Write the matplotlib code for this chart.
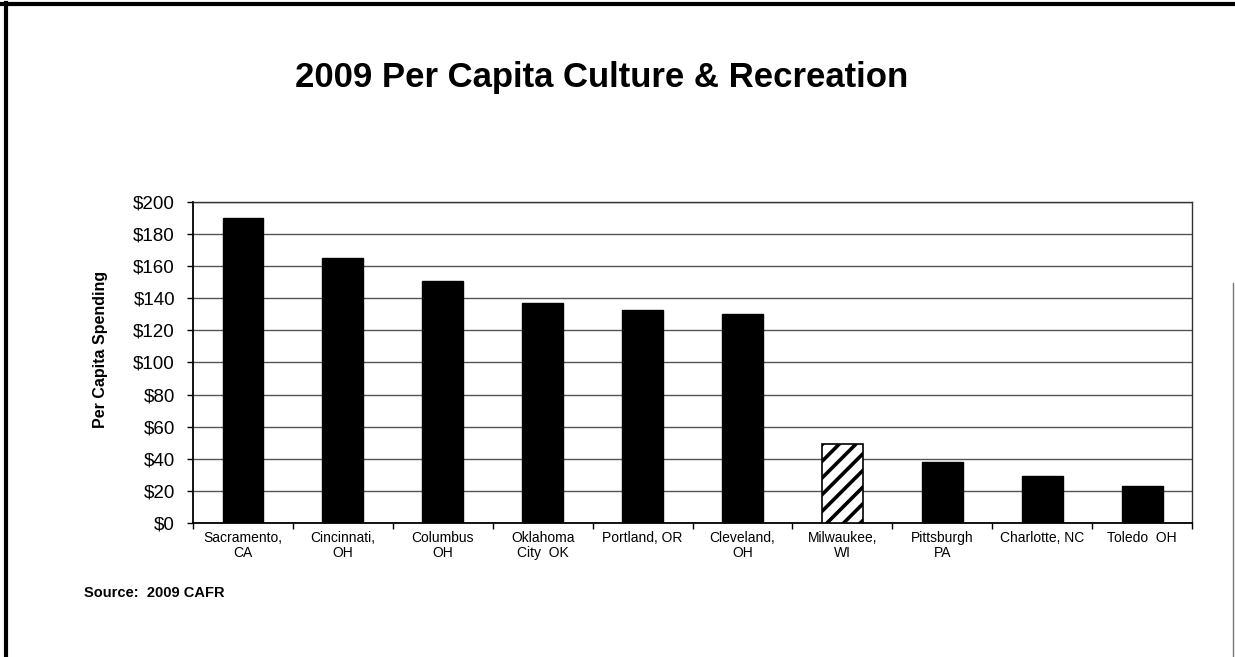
import matplotlib
matplotlib.use("Agg")
import matplotlib.pyplot as plt
from matplotlib.lines import Line2D
import numpy as np

plt.rcParams['font.family'] = ['Liberation Sans', 'DejaVu Sans']
plt.rcParams['hatch.linewidth'] = 2.6
plt.rcParams['hatch.color'] = 'black'

# ── data ─────────────────────────────────────────────────────────────────────
cities = ["Sacramento,\nCA", "Cincinnati,\nOH", "Columbus\nOH", "Oklahoma\nCity  OK",
          "Portland, OR", "Cleveland,\nOH", "Milwaukee,\nWI", "Pittsburgh\nPA",
          "Charlotte, NC", "Toledo  OH"]
spending = [190, 165, 151, 137, 133, 130, 49, 38, 29, 23]
highlight = "Milwaukee,\nWI"

yticks = np.arange(0, 201, 20)
ytick_labels = [f"${v}" for v in yticks]

# ── figure ───────────────────────────────────────────────────────────────────
fig = plt.figure(figsize=(12.35, 6.57), dpi=100)
fig.patch.set_facecolor("white")
ax = fig.add_axes([0.1563, 0.2040, 0.8089, 0.4885])

x = np.arange(len(cities))
for xi, name, val in zip(x, cities, spending):
    if name == highlight:
        ax.bar(xi, val, width=0.41, facecolor="white", edgecolor="black",
               linewidth=1.2, hatch="//", zorder=3)
    else:
        ax.bar(xi, val, width=0.41, color="black", edgecolor="black", zorder=3)

ax.set_xlim(-0.5, len(cities) - 0.5)
ax.set_ylim(0, 200)
ax.set_yticks(yticks)
ax.set_yticklabels(ytick_labels, fontsize=13.5)
ax.set_xticks(x)
ax.set_xticklabels(cities, fontsize=10, linespacing=1.1)
ax.tick_params(axis="x", which="major", length=0, pad=6)
ax.set_xticks(np.arange(-0.5, len(cities), 1), minor=True)
ax.tick_params(axis="x", which="minor", length=4, direction="out", width=1)
ax.tick_params(axis="y", length=4, direction="out", width=1, pad=9)

ax.grid(axis="y", color="#555555", linewidth=1.0, zorder=1)
for side in ["left", "bottom"]:
    ax.spines[side].set_linewidth(1.3)
    ax.spines[side].set_color("black")
for side in ["top", "right"]:
    ax.spines[side].set_linewidth(1.0)
    ax.spines[side].set_color("#333333")

ax.set_ylabel("Per Capita Spending", fontsize=11.5, fontweight="bold")
ax.yaxis.set_label_coords(-0.085, 0.542)

# ── titles / notes ───────────────────────────────────────────────────────────
fig.text(0.4875, 0.882, "2009 Per Capita Culture & Recreation",
         fontsize=25, fontweight="bold", ha="center", va="center")
fig.text(0.068, 0.0975, "Source:  2009 CAFR", fontsize=10.5, fontweight="bold",
         ha="left", va="center")

# ── page border ──────────────────────────────────────────────────────────────
fig.add_artist(Line2D([0.0045, 0.0045], [0.0, 0.996], color="black", lw=3.0))
fig.add_artist(Line2D([0.0, 1.0], [0.994, 0.994], color="black", lw=3.0))
fig.add_artist(Line2D([0.998, 0.998], [0.0, 0.57], color="#777777", lw=1.0))

fig.savefig("out.png", dpi=100, facecolor="white")
